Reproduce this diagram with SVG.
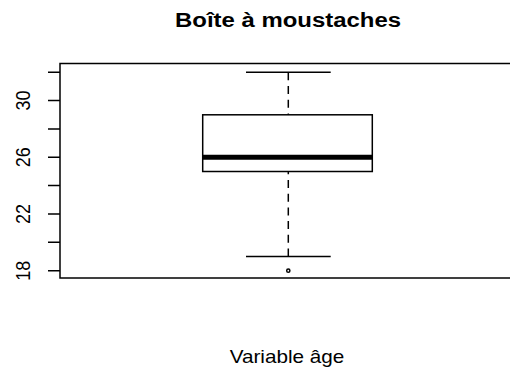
<svg xmlns="http://www.w3.org/2000/svg" width="510" height="371" viewBox="0 0 510 371">
<style>
.ln{stroke:#000;fill:none;stroke-width:1.5}
.t{font-family:"Liberation Sans",Arial,sans-serif;fill:#000}
.ax{font-size:18px}
</style>
<rect width="510" height="371" fill="#fff"/>
<text class="t" x="0" y="0" font-size="21" font-weight="bold" text-anchor="middle" transform="translate(288,27.3) scale(1.14,1)">Boîte à moustaches</text>
<g id="frame">
<rect class="ln" x="60" y="63.5" width="470" height="214.5"/>
</g>
<g id="yaxis">
<path class="ln" d="M48,72.3H60M48,100.6H60M48,129H60M48,157.3H60M48,185.6H60M48,214H60M48,242.3H60M48,270.7H60"/>
<text class="t ax" text-anchor="middle" transform="translate(29.5,100.6) scale(1.15,1) rotate(-90)">30</text>
<text class="t ax" text-anchor="middle" transform="translate(29.5,157.3) scale(1.15,1) rotate(-90)">26</text>
<text class="t ax" text-anchor="middle" transform="translate(29.5,214) scale(1.15,1) rotate(-90)">22</text>
<text class="t ax" text-anchor="middle" transform="translate(29.5,270.7) scale(1.15,1) rotate(-90)">18</text>
</g>
<g id="boxplot">
<rect class="ln" x="202.7" y="114.8" width="169.6" height="56.7"/>
<line x1="202.7" y1="157.3" x2="372.3" y2="157.3" stroke="#000" stroke-width="5"/>
<path class="ln" d="M246,72.3H330.7M246,256.5H330.7"/>
<path class="ln" stroke-dasharray="8,5.7" d="M288.3,72.3V114.8M288.3,256.5V171.5"/>
<circle class="ln" cx="288.3" cy="270.7" r="1.6" stroke-width="1"/>
</g>
<text class="t ax" text-anchor="middle" transform="translate(287,363.3) scale(1.15,1)">Variable âge</text>
</svg>
